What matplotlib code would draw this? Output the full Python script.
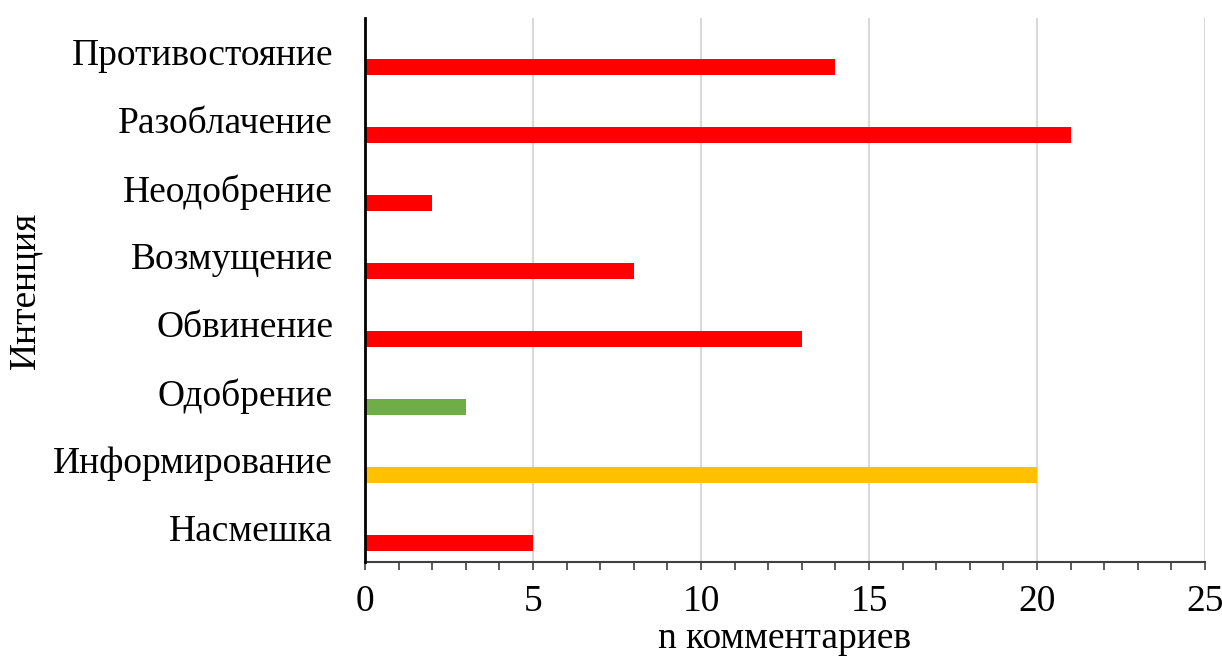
import matplotlib
matplotlib.use("Agg")
import matplotlib.pyplot as plt
from matplotlib.ticker import MultipleLocator

categories = ["Насмешка", "Информирование", "Одобрение", "Обвинение",
              "Возмущение", "Неодобрение", "Разоблачение", "Противостояние"]
values = [5, 20, 3, 13, 8, 2, 21, 14]
colors = ["#FF0000", "#FFC000", "#70AD47", "#FF0000",
          "#FF0000", "#FF0000", "#FF0000", "#FF0000"]
x_ticks = [0, 5, 10, 15, 20, 25]

plt.rcParams['font.family'] = ['Liberation Serif', 'DejaVu Serif']

fig = plt.figure(figsize=(12.22, 6.58), dpi=100)
ax = fig.add_axes([365/1222, 96/658, 840/1222, 544/658])

pos = list(range(len(categories)))
ax.barh([p - 0.22 for p in pos], values, height=0.235, color=colors, zorder=3)

ax.set_xlim(0, 25)
ax.set_ylim(-0.5, len(categories) - 0.5)
ax.set_xticks(x_ticks)
ax.set_xticklabels([str(t) for t in x_ticks], fontsize=27)
ax.xaxis.set_minor_locator(MultipleLocator(1))
ax.set_yticks(pos)
ax.set_yticklabels(categories, fontsize=27)
ax.tick_params(axis='y', length=0, pad=23)
ax.tick_params(axis='x', which='both', direction='out', length=6, width=1.2,
               color='#404040', pad=10)
ax.grid(axis='x', color='#d9d9d9', linewidth=1.5, zorder=0)
for s in ['top', 'right']:
    ax.spines[s].set_visible(False)
ax.spines['left'].set_color('black')
ax.spines['left'].set_linewidth(2)
ax.spines['left'].set_zorder(4)
ax.spines['bottom'].set_color('#404040')
ax.spines['bottom'].set_linewidth(1.5)

ax.set_xlabel("n комментариев", fontsize=27)
ax.xaxis.set_label_coords(0.5, -59/544)
ax.set_ylabel("Интенция", fontsize=27)
ax.yaxis.set_label_coords(-323/840, 0.5)

fig.savefig("out.png", dpi=100)
